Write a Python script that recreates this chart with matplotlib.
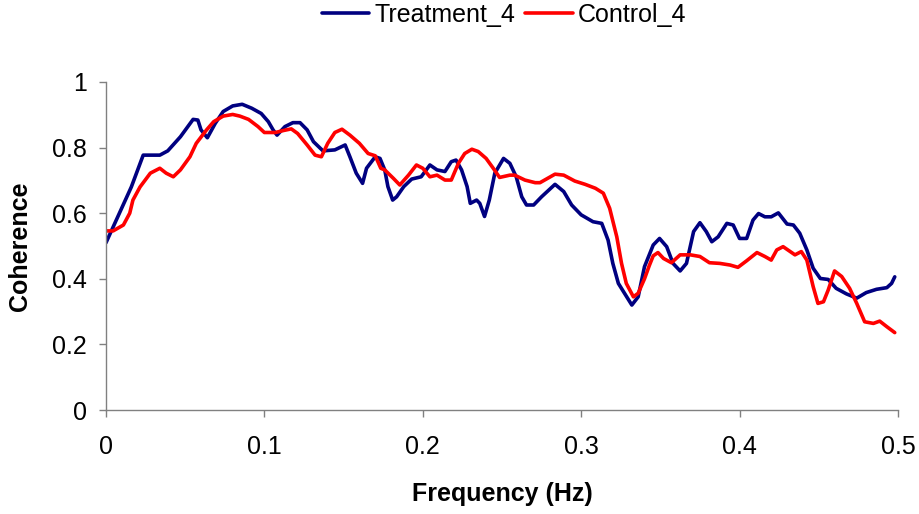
import matplotlib
matplotlib.use("Agg")
import matplotlib.pyplot as plt
from matplotlib.ticker import FuncFormatter

plt.rcParams["font.family"] = ["Liberation Sans", "DejaVu Sans"]

# Treatment_4
treat_freq = [0.000, 0.016, 0.0235, 0.034, 0.039, 0.047, 0.055, 0.058, 0.060, 0.064,
              0.069, 0.074, 0.080, 0.086, 0.092, 0.098, 0.1025, 0.1055, 0.108, 0.113,
              0.118, 0.1225, 0.127, 0.131, 0.137, 0.1445, 0.151, 0.154, 0.158, 0.162,
              0.1645, 0.170, 0.173, 0.176, 0.178, 0.181, 0.1835, 0.188, 0.193, 0.199,
              0.2045, 0.209, 0.214, 0.218, 0.221, 0.2245, 0.228, 0.230, 0.234, 0.236,
              0.239, 0.242, 0.2455, 0.251, 0.255, 0.259, 0.2625, 0.2655, 0.270, 0.275,
              0.2835, 0.289, 0.294, 0.300, 0.3075, 0.313, 0.317, 0.320, 0.3235, 0.328,
              0.332, 0.336, 0.340, 0.3455, 0.3495, 0.354, 0.358, 0.3625, 0.3665, 0.371,
              0.375, 0.379, 0.3825, 0.3865, 0.392, 0.396, 0.400, 0.4045, 0.4085, 0.412,
              0.416, 0.420, 0.4245, 0.430, 0.434, 0.438, 0.4425, 0.4465, 0.451, 0.456,
              0.461, 0.4675, 0.474, 0.480, 0.4865, 0.493, 0.496, 0.498]
treat_coh = [0.510, 0.680, 0.777, 0.777, 0.790, 0.833, 0.886, 0.884, 0.854, 0.830,
             0.874, 0.910, 0.927, 0.932, 0.920, 0.904, 0.879, 0.854, 0.838, 0.864,
             0.876, 0.876, 0.854, 0.818, 0.790, 0.793, 0.808, 0.772, 0.722, 0.691,
             0.737, 0.772, 0.767, 0.732, 0.681, 0.640, 0.650, 0.681, 0.704, 0.711,
             0.747, 0.732, 0.727, 0.757, 0.762, 0.732, 0.681, 0.630, 0.640, 0.630,
             0.590, 0.640, 0.722, 0.767, 0.752, 0.711, 0.650, 0.625, 0.625, 0.650,
             0.688, 0.666, 0.625, 0.595, 0.574, 0.569, 0.518, 0.447, 0.386, 0.351,
             0.320, 0.345, 0.437, 0.503, 0.523, 0.498, 0.447, 0.424, 0.447, 0.544,
             0.571, 0.544, 0.513, 0.528, 0.569, 0.564, 0.523, 0.523, 0.579, 0.599,
             0.589, 0.589, 0.601, 0.567, 0.564, 0.539, 0.488, 0.432, 0.401, 0.398,
             0.371, 0.354, 0.341, 0.358, 0.368, 0.373, 0.386, 0.406]

# Control_4
ctrl_freq = [0.000, 0.0045, 0.011, 0.015, 0.017, 0.0215, 0.028, 0.034, 0.038, 0.0425,
             0.047, 0.053, 0.057, 0.0635, 0.068, 0.074, 0.080, 0.0845, 0.090, 0.096,
             0.100, 0.107, 0.112, 0.117, 0.121, 0.127, 0.132, 0.136, 0.140, 0.1445,
             0.149, 0.154, 0.160, 0.1655, 0.170, 0.1735, 0.176, 0.1815, 0.1855, 0.191,
             0.196, 0.200, 0.2045, 0.209, 0.214, 0.218, 0.2225, 0.2265, 0.231, 0.235,
             0.240, 0.2445, 0.2485, 0.255, 0.258, 0.2645, 0.271, 0.274, 0.2835, 0.289,
             0.296, 0.3025, 0.309, 0.314, 0.318, 0.3225, 0.3255, 0.3285, 0.333, 0.336,
             0.340, 0.343, 0.3455, 0.3485, 0.352, 0.357, 0.3625, 0.369, 0.375, 0.381,
             0.3875, 0.394, 0.399, 0.4045, 0.411, 0.416, 0.420, 0.4235, 0.4275, 0.435,
             0.439, 0.4425, 0.4465, 0.4495, 0.453, 0.456, 0.460, 0.4645, 0.4695, 0.474,
             0.479, 0.4845, 0.4885, 0.493, 0.498]
ctrl_coh = [0.546, 0.546, 0.564, 0.600, 0.640, 0.680, 0.722, 0.737, 0.722, 0.711,
            0.732, 0.772, 0.813, 0.854, 0.879, 0.896, 0.901, 0.896, 0.886, 0.864,
            0.846, 0.846, 0.852, 0.857, 0.843, 0.808, 0.777, 0.772, 0.813, 0.846,
            0.856, 0.838, 0.813, 0.782, 0.775, 0.737, 0.732, 0.706, 0.686, 0.716,
            0.747, 0.737, 0.711, 0.716, 0.701, 0.701, 0.752, 0.782, 0.795, 0.788,
            0.767, 0.737, 0.709, 0.716, 0.716, 0.701, 0.693, 0.693, 0.719, 0.716,
            0.698, 0.688, 0.676, 0.661, 0.615, 0.528, 0.447, 0.386, 0.345, 0.356,
            0.400, 0.440, 0.470, 0.480, 0.462, 0.449, 0.473, 0.473, 0.468, 0.449,
            0.447, 0.442, 0.435, 0.455, 0.480, 0.468, 0.457, 0.488, 0.498, 0.473,
            0.483, 0.457, 0.376, 0.325, 0.330, 0.366, 0.424, 0.407, 0.371, 0.325,
            0.269, 0.264, 0.271, 0.254, 0.236]

x_ticks = [0, 0.1, 0.2, 0.3, 0.4, 0.5]
y_ticks = [0, 0.2, 0.4, 0.6, 0.8, 1.0]

fig = plt.figure(figsize=(9.2, 5.14), dpi=100)
ax = fig.add_axes([0.1152, 0.2023, 0.8608, 0.6382])

ax.plot(treat_freq, treat_coh, color="#000080", lw=2.6, solid_joinstyle="round",
        solid_capstyle="round", label="Treatment_4")
ax.plot(ctrl_freq, ctrl_coh, color="#FF0000", lw=2.6, solid_joinstyle="round",
        solid_capstyle="round", label="Control_4")

ax.set_xlim(0, 0.5)
ax.set_ylim(0, 1)
ax.set_xticks(x_ticks)
ax.set_yticks(y_ticks)
fmt = FuncFormatter(lambda v, p: "%g" % v)
ax.xaxis.set_major_formatter(fmt)
ax.yaxis.set_major_formatter(fmt)

for side in ["top", "right"]:
    ax.spines[side].set_visible(False)
for side in ["left", "bottom"]:
    ax.spines[side].set_color("#808080")
    ax.spines[side].set_linewidth(1.0)
ax.tick_params(axis="both", direction="out", length=5, width=1.0, color="#808080",
               labelsize=18)
ax.tick_params(axis="x", pad=13)
ax.tick_params(axis="y", pad=9)

ax.set_xlabel("Frequency (Hz)", fontsize=18, fontweight="bold")
ax.set_ylabel("Coherence", fontsize=18, fontweight="bold")
ax.xaxis.set_label_coords(0.5, -0.218)
ax.yaxis.set_label_coords(-0.094, 0.5)

fig.legend(loc="upper center", bbox_to_anchor=(0.548, 1.014), ncol=2, frameon=False,
           fontsize=18, handlelength=1.9, handletextpad=0.2, columnspacing=0.4,
           borderaxespad=0)

fig.savefig("out.png", dpi=100)
